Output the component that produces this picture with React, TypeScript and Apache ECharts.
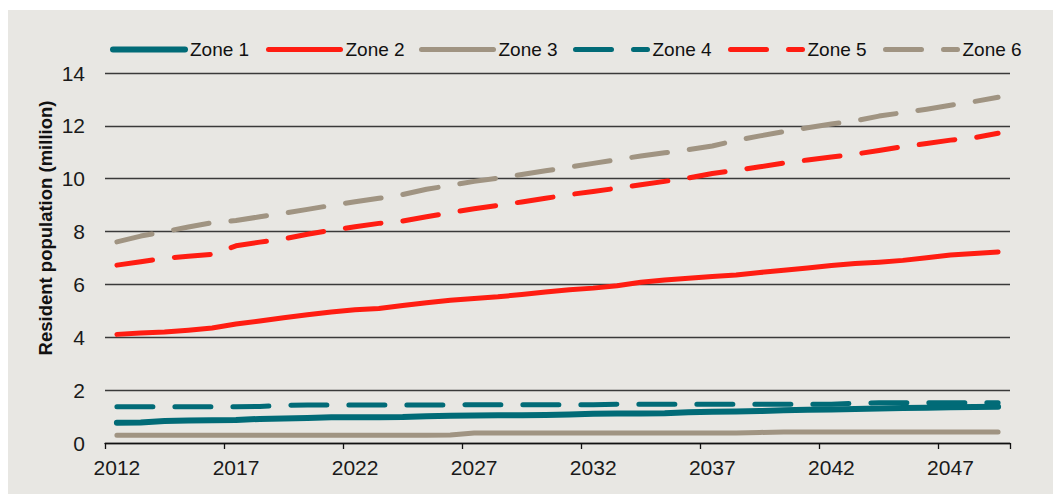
import React, { useEffect, useRef } from "react";
import * as echarts from "echarts";

const years = [
  "2012", "2013", "2014", "2015", "2016", "2017", "2018", "2019", "2020", "2021",
  "2022", "2023", "2024", "2025", "2026", "2027", "2028", "2029", "2030", "2031",
  "2032", "2033", "2034", "2035", "2036", "2037", "2038", "2039", "2040", "2041",
  "2042", "2043", "2044", "2045", "2046", "2047", "2048", "2049",
];

const zone1 = [
  0.77, 0.78, 0.83, 0.85, 0.86, 0.87, 0.91, 0.93, 0.95, 0.97,
  0.97, 0.97, 0.98, 1.01, 1.03, 1.04, 1.05, 1.05, 1.06, 1.08,
  1.11, 1.12, 1.12, 1.13, 1.16, 1.18, 1.19, 1.21, 1.24, 1.26,
  1.27, 1.29, 1.31, 1.32, 1.33, 1.35, 1.36, 1.37,
];
const zone2 = [
  4.11, 4.16, 4.2, 4.27, 4.35, 4.5, 4.62, 4.74, 4.85, 4.96,
  5.04, 5.09, 5.2, 5.31, 5.4, 5.47, 5.53, 5.62, 5.71, 5.8,
  5.86, 5.95, 6.08, 6.17, 6.23, 6.3, 6.36, 6.45, 6.54, 6.62,
  6.72, 6.79, 6.84, 6.91, 7.01, 7.11, 7.17, 7.23,
];
const zone3 = [
  0.29, 0.29, 0.29, 0.29, 0.29, 0.29, 0.29, 0.29, 0.29, 0.29,
  0.29, 0.29, 0.29, 0.29, 0.3, 0.38, 0.38, 0.38, 0.38, 0.38,
  0.38, 0.38, 0.38, 0.38, 0.38, 0.38, 0.38, 0.4, 0.42, 0.42,
  0.42, 0.42, 0.42, 0.42, 0.42, 0.42, 0.42, 0.42,
];
const zone4 = [
  1.37, 1.37, 1.37, 1.37, 1.37, 1.37, 1.38, 1.43, 1.44, 1.44,
  1.44, 1.44, 1.44, 1.44, 1.44, 1.45, 1.45, 1.45, 1.45, 1.45,
  1.45, 1.47, 1.47, 1.47, 1.47, 1.47, 1.47, 1.47, 1.47, 1.47,
  1.47, 1.5, 1.52, 1.52, 1.52, 1.52, 1.52, 1.52,
];
const zone5 = [
  6.73, 6.86, 6.99, 7.07, 7.14, 7.46, 7.6, 7.72, 7.9, 8.05,
  8.18, 8.31, 8.4, 8.56, 8.72, 8.86, 8.99, 9.12, 9.26, 9.4,
  9.52, 9.64, 9.77, 9.9, 10.03, 10.2, 10.32, 10.45, 10.59, 10.71,
  10.82, 10.93, 11.07, 11.21, 11.33, 11.46, 11.55, 11.72,
];
const zone6 = [
  7.61, 7.83, 8.0, 8.17, 8.34, 8.42, 8.56, 8.69, 8.84, 8.99,
  9.13, 9.26, 9.4, 9.6, 9.75, 9.9, 10.02, 10.16, 10.3, 10.44,
  10.58, 10.72, 10.86, 10.98, 11.1, 11.24, 11.45, 11.62, 11.78, 11.93,
  12.07, 12.19, 12.37, 12.5, 12.63, 12.78, 12.92, 13.08,
];

const seriesNames = ["Zone 1", "Zone 2", "Zone 3", "Zone 4", "Zone 5", "Zone 6"];
const seriesValues = [zone1, zone2, zone3, zone4, zone5, zone6];
const seriesColors = ["#016b77", "#ff1d12", "#a09482", "#016b77", "#ff1d12", "#a09482"];
const seriesWidths = [6, 5, 5, 5, 5, 5];
const seriesDashed = [false, false, false, true, true, true];
const legendLefts = [110, 266, 419, 573, 728, 883];

const yAxisTitle = "Resident population (million)";
const FONT = '"Liberation Sans", Arial, sans-serif';

export default function App() {
  const ref = useRef<HTMLDivElement>(null);

  useEffect(() => {
    if (!ref.current) return;
    const chart = echarts.init(ref.current, undefined, { renderer: "svg" });

    const series = seriesNames.map((name, i) => ({
      name,
      type: "line",
      data: seriesValues[i],
      symbol: "none",
      showSymbol: false,
      smooth: false,
      lineStyle: {
        color: seriesColors[i],
        width: seriesWidths[i],
        type: seriesDashed[i] ? [36, 22] : "solid",
        cap: "round",
        join: "round",
      },
      itemStyle: { color: seriesColors[i] },
      emphasis: { disabled: true },
      z: 3,
    }));

    const legends = seriesNames.map((name, i) => ({
      data: [name],
      left: legendLefts[i],
      top: 40,
      padding: 0,
      itemWidth: 72,
      itemHeight: 20,
      selectedMode: false,
      itemStyle: { opacity: 0 },
      lineStyle: { width: seriesWidths[i], cap: "round" },
      textStyle: { fontFamily: FONT, fontSize: 19, color: "#111" },
    }));

    chart.setOption({
      animation: false,
      backgroundColor: "transparent",
      textStyle: { fontFamily: FONT },
      grid: { left: 105, top: 73, width: 905, height: 370, containLabel: false },
      legend: legends,
      xAxis: {
        type: "category",
        data: years,
        boundaryGap: true,
        axisLine: { show: true, lineStyle: { color: "#111", width: 1.3 } },
        axisTick: { show: true, interval: 4, length: 6, lineStyle: { color: "#111", width: 1.3 } },
        axisLabel: { interval: 4, fontSize: 21, color: "#1a1a1a", margin: 14, fontFamily: FONT },
        splitLine: { show: false },
      },
      yAxis: {
        type: "value",
        min: 0,
        max: 14,
        interval: 2,
        axisLine: { show: false },
        axisTick: { show: false },
        axisLabel: { fontSize: 21, color: "#1a1a1a", margin: 20, fontFamily: FONT },
        splitLine: { show: true, lineStyle: { color: "#3a3a3a", width: 1.3 } },
      },
      graphic: [
        {
          type: "text",
          x: 45,
          y: 228,
          rotation: Math.PI / 2,
          style: {
            text: yAxisTitle,
            fontFamily: FONT,
            fontSize: 18.5,
            fontWeight: "bold",
            fill: "#111",
            textAlign: "center",
            textVerticalAlign: "middle",
          },
        },
      ],
      series,
    });

    return () => chart.dispose();
  }, []);

  return (
    <div style={{ position: "fixed", left: 0, top: 0, width: 1053, height: 494, background: "#ffffff" }}>
      <div style={{ position: "absolute", left: 8, top: 10, right: 0, bottom: 0, background: "#e8e7e3" }} />
      <div ref={ref} style={{ position: "absolute", left: 0, top: 0, width: 1053, height: 494 }} />
    </div>
  );
}
